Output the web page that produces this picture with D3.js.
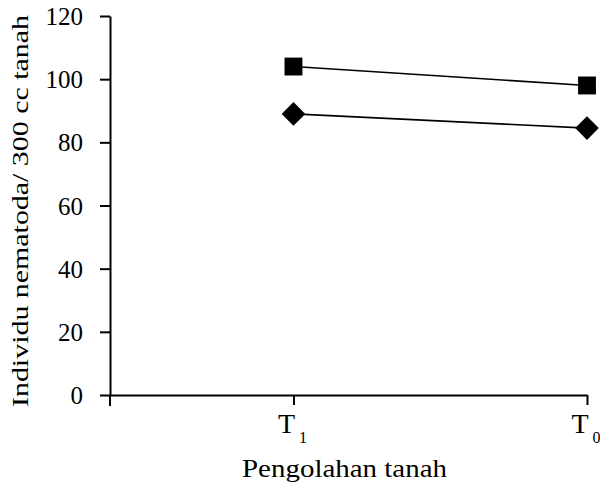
<!DOCTYPE html>
<html>
<head>
<meta charset="utf-8">
<script src="https://cdn.jsdelivr.net/npm/d3@7"></script>
<style>
  body { margin: 0; background: #fff; }
</style>
</head>
<body>
<svg id="drawing_region"></svg>
<script>
// categories and their place on the x axis
const categories = ["T", "T"];
const catSub = ["1", "0"];
const catX = [1, 2.6];
// series
const squareValues = [104, 98];
const diamondValues = [89, 84.5];
const yTicks = [0, 20, 40, 60, 80, 100, 120];

const FONT = 'Liberation Serif';

const config = {
    width: 600,
    height: 485,
    margin: {top: 16, right: 13, bottom: 90, left: 110}
};

const svg = d3.select('#drawing_region')
    .attr('width', config.width)
    .attr('height', config.height);

const innerW = config.width - config.margin.left - config.margin.right;
const innerH = config.height - config.margin.top - config.margin.bottom;

const chart = svg.append('g')
    .attr('transform', `translate(${config.margin.left}, ${config.margin.top})`);

const x = d3.scaleLinear().domain([0, 2.6]).range([0, innerW]);
const y = d3.scaleLinear().domain([0, 120]).range([innerH, 0]);

// y axis
const yAxis = chart.append('g')
    .call(d3.axisLeft(y).tickValues(yTicks).tickSize(10).tickPadding(17).tickSizeOuter(0));
yAxis.select('.domain').attr('stroke-width', 2);
yAxis.selectAll('.tick line').attr('stroke-width', 2);
yAxis.selectAll('.tick text')
    .style('font-size', '25px')
    .style('font-family', FONT)
    .attr('fill', '#000')
    .attr('dy', '0.34em');
// y axis continues a little under the x axis
chart.append('line')
    .attr('x1', 0).attr('x2', 0)
    .attr('y1', innerH).attr('y2', innerH + 11)
    .attr('stroke', '#000').attr('stroke-width', 2);

// x axis
const xAxis = chart.append('g')
    .attr('transform', `translate(0, ${innerH})`)
    .call(d3.axisBottom(x).tickValues(catX).tickSize(10).tickFormat('').tickSizeOuter(0));
xAxis.select('.domain').attr('stroke-width', 2);
xAxis.selectAll('.tick line').attr('stroke-width', 2);

const labels = chart.append('g').selectAll('text')
    .data(categories)
    .join('text')
    .attr('x', (d, i) => x(catX[i]) - 1)
    .attr('y', innerH + 38)
    .attr('text-anchor', 'middle')
    .style('font-family', FONT)
    .style('font-size', '28px');
labels.append('tspan').text(d => d);
labels.append('tspan')
    .style('font-size', '16px')
    .attr('dx', 4)
    .attr('dy', 10)
    .text((d, i) => catSub[i]);

// lines
const line = d3.line()
    .x((d, i) => x(catX[i]))
    .y(d => y(d));

[squareValues, diamondValues].forEach(vals => {
    chart.append('path')
        .attr('d', line(vals))
        .attr('fill', 'none')
        .attr('stroke', '#000')
        .attr('stroke-width', 1.6);
});

// markers
chart.selectAll('.sq')
    .data(squareValues)
    .join('path')
    .attr('class', 'sq')
    .attr('transform', (d, i) => `translate(${x(catX[i])}, ${y(d)})`)
    .attr('d', d3.symbol().type(d3.symbolSquare).size(320))
    .attr('fill', '#000');

chart.selectAll('.dm')
    .data(diamondValues)
    .join('path')
    .attr('class', 'dm')
    .attr('transform', (d, i) => `translate(${x(catX[i])}, ${y(d)}) rotate(45)`)
    .attr('d', d3.symbol().type(d3.symbolSquare).size(280))
    .attr('fill', '#000');

// axis titles
svg.append('text')
    .attr('x', 242)
    .attr('y', 477)
    .attr('textLength', 205)
    .attr('lengthAdjust', 'spacingAndGlyphs')
    .style('font-family', FONT)
    .style('font-size', '26px')
    .text('Pengolahan tanah');

svg.append('text')
    .attr('transform', 'translate(28, 407) rotate(-90)')
    .attr('textLength', 392)
    .attr('lengthAdjust', 'spacingAndGlyphs')
    .style('font-family', FONT)
    .style('font-size', '24px')
    .text('Individu nematoda/ 300 cc tanah');
</script>
</body>
</html>
